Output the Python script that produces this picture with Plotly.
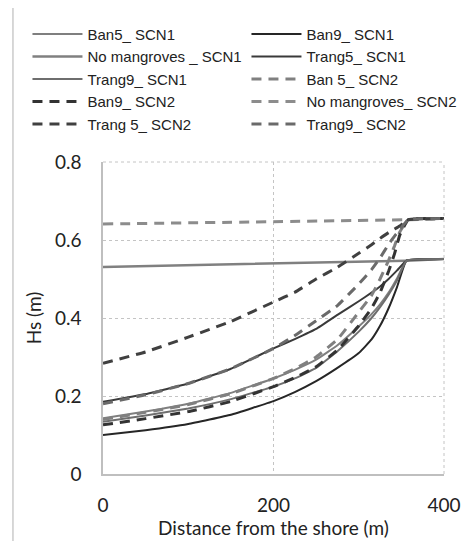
import plotly.graph_objects as go

# ---- data ----
x_scn1 = [0, 50, 100, 150, 200, 225, 250, 275, 300, 315, 325, 335, 345, 356, 400]
ban5_scn1 = [0.143, 0.160, 0.180, 0.208, 0.245, 0.267, 0.293, 0.330, 0.378, 0.410, 0.435, 0.465, 0.502, 0.547, 0.551]
ban9_scn1 = [0.100, 0.112, 0.128, 0.152, 0.187, 0.210, 0.238, 0.272, 0.310, 0.345, 0.380, 0.425, 0.480, 0.547, 0.551]
trang5_scn1 = [0.185, 0.205, 0.232, 0.270, 0.322, 0.346, 0.372, 0.408, 0.443, 0.465, 0.481, 0.500, 0.522, 0.547, 0.551]
trang9_scn1 = [0.134, 0.150, 0.168, 0.192, 0.224, 0.245, 0.272, 0.315, 0.365, 0.400, 0.428, 0.460, 0.497, 0.547, 0.551]

x_nomang1 = [0, 356, 400]
nomang_scn1 = [0.531, 0.547, 0.551]

x_scn2 = [0, 50, 100, 150, 200, 225, 250, 275, 300, 315, 325, 335, 342, 348, 358, 400]
ban5_scn2 = [0.140, 0.158, 0.178, 0.206, 0.245, 0.270, 0.300, 0.345, 0.415, 0.458, 0.500, 0.548, 0.585, 0.620, 0.652, 0.655]
ban9_scn2 = [0.126, 0.142, 0.160, 0.186, 0.224, 0.247, 0.275, 0.318, 0.380, 0.425, 0.465, 0.520, 0.565, 0.612, 0.652, 0.655]
trang5_scn2 = [0.284, 0.313, 0.351, 0.391, 0.441, 0.466, 0.500, 0.530, 0.566, 0.588, 0.604, 0.619, 0.628, 0.636, 0.652, 0.655]
trang9_scn2 = [0.180, 0.203, 0.232, 0.270, 0.322, 0.355, 0.393, 0.432, 0.487, 0.524, 0.554, 0.589, 0.610, 0.626, 0.652, 0.655]

x_nomang2 = [0, 358, 400]
nomang_scn2 = [0.641, 0.652, 0.655]

x_ticks = [0, 200, 400]
y_ticks = [0, 0.2, 0.4, 0.6, 0.8]
y_ticktext = ["0", "0.2", "0.4", "0.6", "0.8"]

# legend order (row-major, two columns)
series = [
    ("Ban5_ SCN1", x_scn1, ban5_scn1, "#7f7f7f", "solid", 2),
    ("Ban9_ SCN1", x_scn1, ban9_scn1, "#262626", "solid", 2),
    ("No mangroves _ SCN1", x_nomang1, nomang_scn1, "#808080", "solid", 2.5),
    ("Trang5_ SCN1", x_scn1, trang5_scn1, "#3a3a3a", "solid", 2),
    ("Trang9_ SCN1", x_scn1, trang9_scn1, "#6e6e6e", "solid", 2),
    ("Ban 5_ SCN2", x_scn2, ban5_scn2, "#808080", "10px,7px", 3),
    ("Ban9_ SCN2", x_scn2, ban9_scn2, "#333333", "10px,7px", 3),
    ("No mangroves_ SCN2", x_nomang2, nomang_scn2, "#8c8c8c", "10px,7px", 3),
    ("Trang 5_ SCN2", x_scn2, trang5_scn2, "#404040", "10px,7px", 3),
    ("Trang9_ SCN2", x_scn2, trang9_scn2, "#6a6a6a", "10px,7px", 3),
]

fig = go.Figure()
for name, xs, ys, col, dash, w in series:
    fig.add_trace(go.Scatter(
        x=xs, y=ys, mode="lines", name=name,
        line=dict(color=col, width=w, dash=dash, shape="spline", smoothing=0.3),
    ))

tick_font = dict(family="Lato, 'Open Sans', sans-serif", size=19, color="#222222")

# the page body adds an 8px offset, so the plot area is placed 8px up/left
fig.update_layout(
    width=472, height=541,
    margin=dict(l=95, r=36, t=154, b=75, autoexpand=False),
    paper_bgcolor="white", plot_bgcolor="white",
    showlegend=True,
    legend=dict(
        orientation="h", x=-0.2215, y=1.462, xanchor="left", yanchor="top",
        entrywidth=154, entrywidthmode="pixels", itemwidth=50,
        font=dict(family="'Liberation Sans Narrow', 'Liberation Sans', Arial, sans-serif", size=15, color="#222222"),
        bgcolor="rgba(0,0,0,0)", tracegroupgap=0,
    ),
    xaxis=dict(
        range=[0, 400], tickvals=x_ticks, ticktext=[str(v) for v in x_ticks],
        showgrid=True, gridcolor="#c4c4c4", griddash="dot", gridwidth=1,
        showline=True, linecolor="#bfbfbf", linewidth=1.5, zeroline=False,
        ticks="", tickfont=tick_font, ticklabelstandoff=13,
        title=dict(text="Distance from the shore (m)", font=tick_font, standoff=0),
        automargin=False,
    ),
    yaxis=dict(
        range=[0, 0.8], tickvals=y_ticks, ticktext=y_ticktext,
        showgrid=True, gridcolor="#c4c4c4", griddash="dot", gridwidth=1,
        showline=True, linecolor="#bfbfbf", linewidth=1.5, zeroline=False,
        ticks="", tickfont=tick_font, ticklabelstandoff=16,
        title=dict(text="Hs (m)", font=tick_font, standoff=8),
        automargin=False,
    ),
    shapes=[
        dict(type="rect", xref="paper", yref="paper", x0=-0.264, x1=1.2, y0=-0.3, y1=1.497,
             line=dict(color="#b0b0b0", width=1), fillcolor="rgba(0,0,0,0)", layer="below"),
        dict(type="line", xref="paper", yref="paper", x0=0, x1=1, y0=1, y1=1,
             line=dict(color="#c4c4c4", width=1, dash="dot")),
        dict(type="line", xref="paper", yref="paper", x0=1, x1=1, y0=0, y1=1,
             line=dict(color="#c4c4c4", width=1, dash="dot")),
    ],
)

fig.write_html("out.html")
